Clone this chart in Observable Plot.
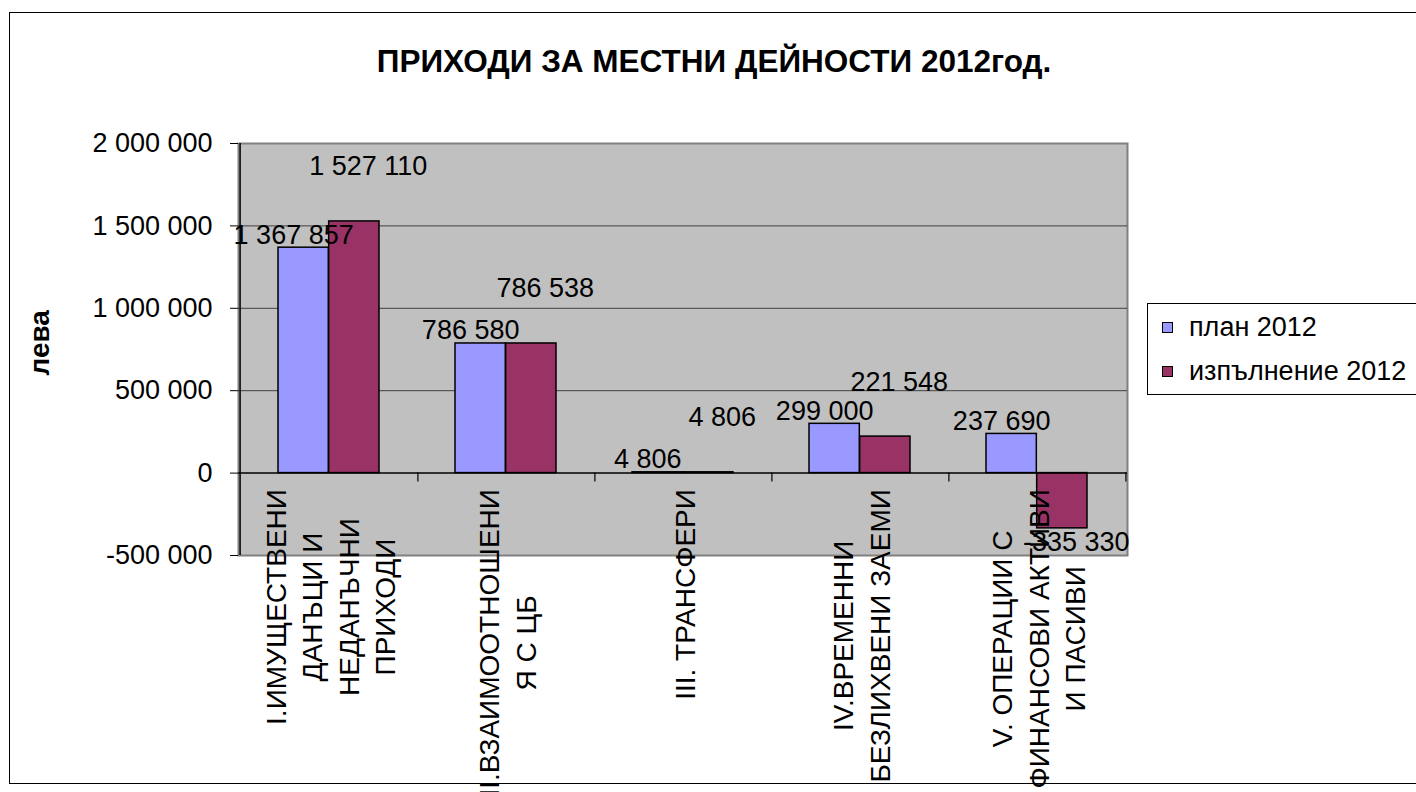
<!DOCTYPE html>
<html>
<head>
<meta charset="utf-8">
<script src="https://cdn.jsdelivr.net/npm/d3@7"></script>
<script src="https://cdn.jsdelivr.net/npm/@observablehq/plot@0.6"></script>
<style>
html, body { margin: 0; padding: 0; background: #fff; overflow: hidden; }
#wrap { position: relative; width: 1416px; height: 792px; font-family: "Liberation Sans", Arial, sans-serif; color: #000; }
#border { position: absolute; left: 9px; top: 12px; width: 1430px; height: 772px; border: 1.5px solid #000; box-sizing: border-box; }
#title { position: absolute; left: 0; width: 1428px; top: 45px; text-align: center; font-weight: bold; font-size: 31.5px; line-height: 32px; white-space: nowrap; }
#chart { position: absolute; left: 0; top: 0; }
#legend { position: absolute; left: 1147px; top: 303px; width: 290px; height: 92px; border: 1px solid #000; box-sizing: border-box; background: #fff; font-size: 27px; }
.item { position: absolute; left: 14px; display: flex; align-items: center; white-space: nowrap; }
.sw { width: 9px; height: 9px; border: 1px solid #000; margin-right: 16px; }
</style>
</head>
<body>
<div id="wrap">
  <div id="border"></div>
  <div id="chart"></div>
  <div id="title"></div>
  <div id="legend"></div>
</div>
<script>
// ---- data ----
const titleText = "ПРИХОДИ ЗА МЕСТНИ ДЕЙНОСТИ 2012год.";
const yLabel = "лева";
const categories = [
  "I.ИМУЩЕСТВЕНИ\nДАНЪЦИ И\nНЕДАНЪЧНИ\nПРИХОДИ",
  "II.ВЗАИМООТНОШЕНИ\nЯ С ЦБ",
  "III. ТРАНСФЕРИ",
  "IV.ВРЕМЕННИ\nБЕЗЛИХВЕНИ ЗАЕМИ",
  "V. ОПЕРАЦИИ С\nФИНАНСОВИ АКТИВИ\nИ ПАСИВИ"
];
const plan2012 = [1367857, 786580, 4806, 299000, 237690];
const actual2012 = [1527110, 786538, 4806, 221548, -335330];
const seriesNames = ["план 2012", "изпълнение 2012"];
const seriesColors = ["#9999ff", "#993366"];
const yTicks = [-500000, 0, 500000, 1000000, 1500000, 2000000];
const gridTicks = [500000, 1000000, 1500000];

// ---- layout ----
const W = 1416, H = 792;
const ML = 238, MR = 289, MT = 143, MB = 237;
const padInner = 0.43, padOuter = 0.215;
const step = (W - ML - MR) / categories.length;
const bw = step * (1 - padInner);
const FONT = '"Liberation Sans", Arial, sans-serif';

const fmt = d => (d < 0 ? "-" : "") + d3.format(",")(Math.abs(d)).replace(/,/g, " ");

const rows = categories.map((c, i) => ({cat: c, plan: plan2012[i], actual: actual2012[i]}));

// measure longest line of each category label
const ctx = document.createElement("canvas").getContext("2d");
const catFont = 28;
ctx.font = `${catFont}px "Liberation Sans"`;
const longest = categories.map(c => d3.max(c.split("\n"), l => ctx.measureText(l).width));

const catMarks = categories.map((c, i) =>
  Plot.text([c], {
    x: d => d, y: () => 0, text: d => d,
    rotate: -90, textAnchor: "middle", lineHeight: 1.3,
    fontSize: catFont, dy: 16 + longest[i] / 2, fill: "#000"
  })
);

const valueLabel = (key, dx, dyPos) => [
  Plot.text(rows.filter(d => d[key] >= 0), {
    x: "cat", y: key, text: d => fmt(d[key]), dx, dy: dyPos,
    lineAnchor: "bottom", fontSize: 27, fill: "#000"
  }),
  Plot.text(rows.filter(d => d[key] < 0), {
    x: "cat", y: key, text: d => fmt(d[key]), dx, dy: 3,
    lineAnchor: "top", fontSize: 27, fill: "#000"
  })
];

const chart = Plot.plot({
  width: W, height: H,
  marginLeft: ML, marginRight: MR, marginTop: MT, marginBottom: MB,
  style: {fontFamily: FONT, fontSize: "27px", background: "transparent", overflow: "visible"},
  x: {domain: categories, paddingInner: padInner, paddingOuter: padOuter, axis: null},
  y: {domain: [-500000, 2000000]},
  marks: [
    Plot.frame({fill: "#c0c0c0", stroke: "#808080", strokeWidth: 2}),
    Plot.gridY(gridTicks, {stroke: "#404040", strokeOpacity: 1, strokeWidth: 1}),
    Plot.barY(rows, {x: "cat", y: "plan", fill: seriesColors[0], stroke: "#000", strokeWidth: 1.5, insetRight: bw / 2}),
    Plot.barY(rows, {x: "cat", y: "actual", fill: seriesColors[1], stroke: "#000", strokeWidth: 1.5, insetLeft: bw / 2}),
    Plot.ruleY([0], {stroke: "#000", strokeWidth: 1.5}),
    Plot.ruleX(categories, {x: d => d, y1: () => 0, y2: () => 0, insetBottom: -9, dx: step / 2, stroke: "#000", strokeWidth: 1.2}),
    Plot.ruleX([categories[0]], {x: d => d, dx: -step / 2, stroke: "#000", strokeWidth: 1.5}),
    Plot.axisY({ticks: yTicks, tickFormat: fmt, tickSize: 8, tickPadding: 18, fontSize: 27, label: null, stroke: "#000", fill: "#000"}),
    Plot.text([yLabel], {frameAnchor: "left", dx: -198, dy: 26, rotate: -90, fontWeight: "bold", fontSize: 28, text: d => d, fill: "#000"}),
    ...valueLabel("plan", -bw / 4 - 10, -4),
    ...valueLabel("actual", bw / 4 + 14, -46),
    ...catMarks
  ]
});
document.getElementById("chart").appendChild(chart);

document.getElementById("title").textContent = titleText;
const legend = document.getElementById("legend");
seriesNames.forEach((name, i) => {
  const it = document.createElement("div");
  it.className = "item";
  it.style.top = (8 + i * 44) + "px";
  const sw = document.createElement("div");
  sw.className = "sw";
  sw.style.background = seriesColors[i];
  const tx = document.createElement("span");
  tx.textContent = name;
  it.appendChild(sw); it.appendChild(tx);
  legend.appendChild(it);
});
</script>
</body>
</html>
